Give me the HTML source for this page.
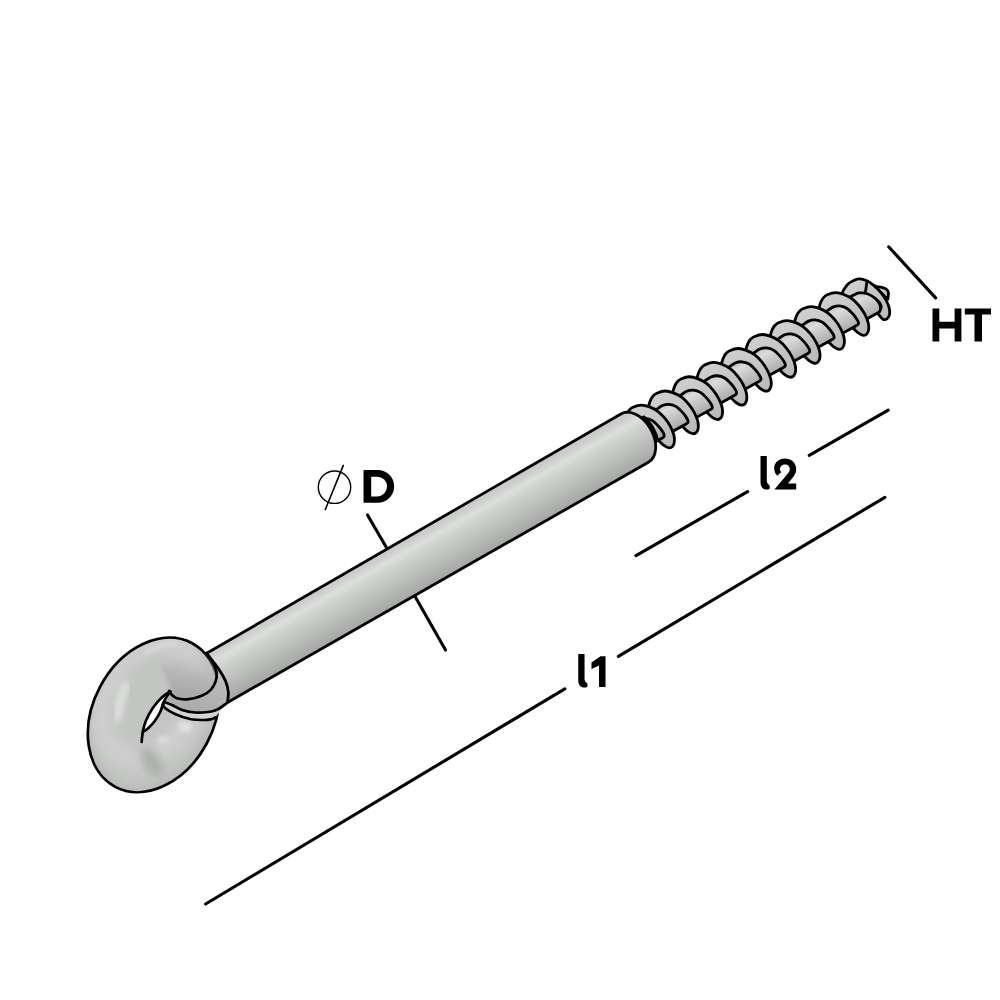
<!DOCTYPE html>
<html><head><meta charset="utf-8"><style>
html,body{margin:0;padding:0;background:#fff;}
svg{display:block;}
</style></head><body>
<svg width="1000" height="1000" viewBox="0 0 1000 1000">
<defs>
<linearGradient id="cyl" gradientUnits="userSpaceOnUse" x1="0" y1="-28.25" x2="0" y2="27.35">
 <stop offset="0" stop-color="#c4c7c4"/>
 <stop offset="0.12" stop-color="#cccfcc"/>
 <stop offset="0.24" stop-color="#dcdfdc"/>
 <stop offset="0.36" stop-color="#d0d3d0"/>
 <stop offset="0.6" stop-color="#c0c3c0"/>
 <stop offset="1" stop-color="#a3a6a3"/>
</linearGradient>
<linearGradient id="core" gradientUnits="userSpaceOnUse" x1="0" y1="-16" x2="0" y2="12">
 <stop offset="0" stop-color="#c4c5c4"/>
 <stop offset="0.25" stop-color="#dcdcdc"/>
 <stop offset="1" stop-color="#a9aaa9"/>
</linearGradient>
<linearGradient id="fl" gradientUnits="userSpaceOnUse" x1="0" y1="-27" x2="0" y2="24">
 <stop offset="0" stop-color="#cfcfcf"/>
 <stop offset="1" stop-color="#b9b9b9"/>
</linearGradient>
<radialGradient id="ring" gradientUnits="userSpaceOnUse" cx="120" cy="710" r="90">
 <stop offset="0" stop-color="#d8d9d8"/>
 <stop offset="0.6" stop-color="#c3c4c3"/>
 <stop offset="1" stop-color="#b4b5b4"/>
</radialGradient>
</defs>
<rect width="1000" height="1000" fill="#fff"/>
<line x1="888.7" y1="246.8" x2="935.6" y2="297.9" stroke="#000" stroke-width="3.1" stroke-linecap="round"/>
<line x1="888.2" y1="410.2" x2="809.2" y2="455.3" stroke="#000" stroke-width="3.1" stroke-linecap="round"/>
<line x1="747.6" y1="491.6" x2="636" y2="555.6" stroke="#000" stroke-width="3.1" stroke-linecap="round"/>
<line x1="884.9" y1="497.3" x2="618.4" y2="656.4" stroke="#000" stroke-width="3.1" stroke-linecap="round"/>
<line x1="564.8" y1="688.8" x2="205.6" y2="904" stroke="#000" stroke-width="3.1" stroke-linecap="round"/>
<line x1="367.5" y1="515" x2="387" y2="548.5" stroke="#000" stroke-width="3.1" stroke-linecap="round"/>
<line x1="414.5" y1="595.5" x2="445.5" y2="650" stroke="#000" stroke-width="3.1" stroke-linecap="round"/>
<clipPath id="ringclip"><ellipse cx="153.5" cy="714.9" rx="81.5" ry="60.4" transform="rotate(-62 153.5 714.9)"/></clipPath>
<filter id="bl4" x="-50%" y="-50%" width="200%" height="200%"><feGaussianBlur stdDeviation="4"/></filter>
<filter id="bl2" x="-50%" y="-50%" width="200%" height="200%"><feGaussianBlur stdDeviation="2"/></filter>
<filter id="bl6" x="-50%" y="-50%" width="200%" height="200%"><feGaussianBlur stdDeviation="6"/></filter>
<ellipse cx="153.5" cy="714.9" rx="81.5" ry="60.4" transform="rotate(-62 153.5 714.9)" fill="#c3c5c3"/>
<g clip-path="url(#ringclip)">
<ellipse cx="153.5" cy="714.9" rx="81.5" ry="60.4" transform="rotate(-62 153.5 714.9)" fill="none" stroke="#b6b8b6" stroke-width="10" filter="url(#bl4)"/>
<ellipse cx="150" cy="700" rx="62" ry="44" transform="rotate(-62 150 700)" fill="none" stroke="#cdcfcd" stroke-width="22" filter="url(#bl6)"/>
<filter id="bl3" x="-50%" y="-50%" width="200%" height="200%"><feGaussianBlur stdDeviation="3"/></filter>
<path d="M 126 686 C 121 695 119 704 118 717" fill="none" stroke="#e0e2e0" stroke-width="8" stroke-linecap="round" filter="url(#bl3)"/>
<path d="M 146 653 C 155 647 165 644 176 643" fill="none" stroke="#dadbda" stroke-width="4" stroke-linecap="round" filter="url(#bl2)"/>
<ellipse cx="190" cy="687" rx="17" ry="8" transform="rotate(-15 190 687)" fill="#a2a3a2" filter="url(#bl4)"/>
<ellipse cx="185" cy="727" rx="7" ry="5" fill="#e0e1e0" filter="url(#bl2)"/>
<ellipse cx="163" cy="740" rx="6" ry="4" fill="#dcdddc" filter="url(#bl2)"/>
<ellipse cx="152" cy="762" rx="9" ry="17" transform="rotate(-35 152 762)" fill="#aeb0ae" filter="url(#bl4)"/>
</g>
<ellipse cx="153.5" cy="714.9" rx="81.5" ry="60.4" transform="rotate(-62 153.5 714.9)" fill="none" stroke="#000" stroke-width="2.7"/>
<path d="M 170.4 691.6 C 169 692.53 164.9 694.5 162 697.2 C 159.1 699.9 155.7 703.83 153 707.8 C 150.3 711.77 147.5 716.97 145.8 721 C 144.1 725.03 143.3 730.17 142.8 732 C 143.7 731.37 146.2 730.03 148.2 728.2 C 150.2 726.37 152.8 723.7 154.8 721 C 156.8 718.3 158.77 715 160.2 712 C 161.63 709 162.3 705.6 163.4 703 C 164.5 700.4 165.63 698.3 166.8 696.4 C 167.97 694.5 169.8 692.4 170.4 691.6 Z" fill="#fff" stroke="none"/>
<linearGradient id="collarg" gradientUnits="userSpaceOnUse" x1="200" y1="660" x2="190" y2="712"><stop offset="0" stop-color="#c4c5c4"/><stop offset="1" stop-color="#a9aaa9"/></linearGradient>
<path d="M 206.7 652.9 C 207.75 654.47 211.35 659.08 213 662.3 C 214.65 665.52 216.15 669.05 216.6 672.2 C 217.05 675.35 216.6 678.35 215.7 681.2 C 214.8 684.05 213.45 686.9 211.2 689.3 C 208.95 691.7 205.95 693.95 202.2 695.6 C 198.45 697.25 192.9 698.75 188.7 699.2 C 184.5 699.65 180 699.2 177 698.3 C 174 697.4 172.03 695.02 170.7 693.8 C 169.37 692.58 169.28 691.47 169 691 L 164 702  L 164 702 C 165.33 702.5 169 703.67 172 705 C 175 706.33 178.17 708.75 182 710 C 185.83 711.25 190.67 712.17 195 712.5 C 199.33 712.83 204.67 712.33 208 712 C 211.33 711.67 213 711.17 215 710.5 C 217 709.83 218 709.25 220 708 C 222 706.75 225.83 703.83 227 703 L 228.3 692 L 224 680 L 216 668 Z" fill="url(#collarg)" stroke="none"/>
<linearGradient id="bulbg" gradientUnits="userSpaceOnUse" x1="195" y1="650" x2="185" y2="700"><stop offset="0" stop-color="#c2c3c2" stop-opacity="0"/><stop offset="0.55" stop-color="#b4b5b4"/><stop offset="1" stop-color="#a3a4a3"/></linearGradient>
<path d="M 172 690 L 160 665 L 206.7 652.9 C 207.75 654.47 211.35 659.08 213 662.3 C 214.65 665.52 216.15 669.05 216.6 672.2 C 217.05 675.35 216.6 678.35 215.7 681.2 C 214.8 684.05 213.45 686.9 211.2 689.3 C 208.95 691.7 205.95 693.95 202.2 695.6 C 198.45 697.25 192.9 698.75 188.7 699.2 C 184.5 699.65 180 699.2 177 698.3 C 174 697.4 172.03 695.02 170.7 693.8 C 169.37 692.58 169.28 691.47 169 691 Z" fill="url(#bulbg)" stroke="none" filter="url(#bl2)"/>
<path d="M 164 702 C 165.33 702.5 169 703.67 172 705 C 175 706.33 178.17 708.75 182 710 C 185.83 711.25 190.67 712.17 195 712.5 C 199.33 712.83 204.67 712.33 208 712 C 211.33 711.67 213 711.17 215 710.5 C 217 709.83 218 709.25 220 708 C 222 706.75 225.83 703.83 227 703 L 215 717.5 C 214.5 717.75 213.67 718.58 212 719 C 210.33 719.42 208.67 720 205 720 C 201.33 720 195 720 190 719 C 185 718 179.17 715.83 175 714 C 170.83 712.17 167 709.67 165 708 C 163 706.33 163.33 704.67 163 704 Z" fill="#d3d4d3" stroke="none"/>
<path d="M 170.4 691.6 C 169 692.53 164.9 694.5 162 697.2 C 159.1 699.9 155.7 703.83 153 707.8 C 150.3 711.77 147.5 716.97 145.8 721 C 144.1 725.03 143.5 728.5 142.8 732 C 142.1 735.5 141.8 740.33 141.6 742" fill="none" stroke="#000" stroke-width="2.7" stroke-linecap="round"/>
<path d="M 142.8 732 C 143.7 731.37 146.2 730.03 148.2 728.2 C 150.2 726.37 152.8 723.7 154.8 721 C 156.8 718.3 158.77 715 160.2 712 C 161.63 709 162.3 705.6 163.4 703 C 164.5 700.4 165.63 698.3 166.8 696.4 C 167.97 694.5 169.8 692.4 170.4 691.6" fill="none" stroke="#000" stroke-width="2.7" stroke-linecap="round"/>
<path d="M 164 702 C 165.33 702.5 169 703.67 172 705 C 175 706.33 178.17 708.75 182 710 C 185.83 711.25 190.67 712.17 195 712.5 C 199.33 712.83 204.67 712.33 208 712 C 211.33 711.67 213 711.17 215 710.5 C 217 709.83 218 709.25 220 708 C 222 706.75 225.83 703.83 227 703" fill="none" stroke="#000" stroke-width="2.7" stroke-linecap="round"/>
<path d="M 163 704 C 163.33 704.67 163 706.33 165 708 C 167 709.67 170.83 712.17 175 714 C 179.17 715.83 185 718 190 719 C 195 720 201.33 720 205 720 C 208.67 720 210.33 719.42 212 719 C 213.67 718.58 214.5 717.75 215 717.5" fill="none" stroke="#000" stroke-width="2.7" stroke-linecap="round"/>
<path d="M 206.7 652.9 C 207.75 654.47 211.35 659.08 213 662.3 C 214.65 665.52 216.15 669.05 216.6 672.2 C 217.05 675.35 216.6 678.35 215.7 681.2 C 214.8 684.05 213.45 686.9 211.2 689.3 C 208.95 691.7 205.95 693.95 202.2 695.6 C 198.45 697.25 192.9 698.75 188.7 699.2 C 184.5 699.65 180 699.2 177 698.3 C 174 697.4 172.03 695.02 170.7 693.8 C 169.37 692.58 169.28 691.47 169 691" fill="none" stroke="#000" stroke-width="2.7" stroke-linecap="round"/>
<g transform="translate(400.75 572) rotate(-29.7)">
<path d="M 553.1 -14.5 C 553.43 -14.05 554.23 -12.65 555.1 -11.8 C 555.97 -10.95 557.17 -10.5 558.3 -9.4 C 559.43 -8.3 561.28 -6.6 561.9 -5.2 C 562.52 -3.8 562.63 -2.62 562 -1 C 561.37 0.62 558.75 3.58 558.1 4.5 Z" fill="#c4c4c4" stroke="#000" stroke-width="2.8" stroke-linejoin="round"/>
<path d="M 516.6 -18 C 517.42 -18.93 519.5 -22 521.5 -23.6 C 523.5 -25.2 526.53 -26.72 528.6 -27.6 C 530.67 -28.48 531.47 -28.92 533.9 -28.9 C 536.33 -28.88 540.67 -28.65 543.2 -27.5 C 545.73 -26.35 547.47 -24.2 549.1 -22 C 550.73 -19.8 551.95 -17.13 553 -14.3 C 554.05 -11.47 554.87 -8.08 555.4 -5 C 555.93 -1.92 556.22 1.38 556.2 4.2 C 556.18 7.02 555.95 9.53 555.3 11.9 C 554.65 14.27 553.5 16.9 552.3 18.4 C 551.1 19.9 549.47 20.75 548.1 20.9 C 546.73 21.05 545.02 20.65 544.1 19.3 C 543.18 17.95 542.85 13.88 542.6 12.8 L 541.6 10 L 517.6 9 Z" fill="url(#fl)" stroke="#000" stroke-width="2.8" stroke-linejoin="round"/>
<path d="M 549.3 -21.8 L 542.4 -13" stroke="#000" stroke-width="2.8"/>
<path d="M 509.76 -16.3 L 523.6 -16.3 C 524.6 -16.28 527.47 -16.37 529.6 -16.2 C 531.73 -16.03 534.07 -16.33 536.4 -15.3 C 538.73 -14.27 541.67 -12.23 543.6 -10 C 545.53 -7.77 547.13 -4.23 548 -1.9 C 548.87 0.43 548.9 2.22 548.8 4 C 548.7 5.78 548.1 7.58 547.4 8.8 C 546.7 10.02 545.07 10.88 544.6 11.3 L 509.76 10.8 Z" fill="url(#core)" stroke="none"/>
<path d="M 543.6 -10 C 544.33 -8.65 547.13 -4.23 548 -1.9 C 548.87 0.43 548.9 2.22 548.8 4 C 548.7 5.78 548.1 7.58 547.4 8.8 C 546.7 10.02 545.07 10.88 544.6 11.3 C 547.1 10.83 548.9 10.2 549.6 9 C 550.3 7.8 550.87 5.67 550.8 4 C 550.73 2.33 549.9 0.42 549.2 -1 C 548.5 -2.42 547.03 -3.92 546.6 -4.5 Z" fill="#000" stroke="none"/>
<path d="M 509.76 -16.3 L 523.6 -16.3 C 524.6 -16.28 527.47 -16.37 529.6 -16.2 C 531.73 -16.03 534.07 -16.33 536.4 -15.3 C 538.73 -14.27 541.67 -12.23 543.6 -10 C 545.53 -7.77 547.13 -4.23 548 -1.9 C 548.87 0.43 548.9 2.22 548.8 4 C 548.7 5.78 548.1 7.58 547.4 8.8 C 546.7 10.02 545.07 10.88 544.6 11.3 L 509.76 10.8" fill="none" stroke="#000" stroke-width="2.8" stroke-linejoin="round"/>
<path d="M 489.7 -16.25 C 490.2 -16.92 491.78 -19.08 492.7 -20.25 C 493.62 -21.42 494.12 -22.17 495.2 -23.25 C 496.28 -24.33 497.87 -25.82 499.2 -26.75 C 500.53 -27.68 501.77 -28.4 503.2 -28.85 C 504.63 -29.3 505.65 -29.72 507.8 -29.45 C 509.95 -29.18 513.67 -28.57 516.1 -27.25 C 518.53 -25.93 520.52 -23.82 522.4 -21.55 C 524.28 -19.28 526.12 -16.6 527.4 -13.65 C 528.68 -10.7 529.53 -7.12 530.1 -3.85 C 530.67 -0.58 530.88 2.83 530.8 5.95 C 530.72 9.07 530.27 12.35 529.6 14.85 C 528.93 17.35 527.92 19.4 526.8 20.95 C 525.68 22.5 524.2 23.72 522.9 24.15 C 521.6 24.58 520.22 24.48 519 23.55 C 517.78 22.62 516.45 20.35 515.6 18.55 C 514.75 16.75 514.18 13.72 513.9 12.75 L 512.2 10.25 L 487.7 8.75 Z" fill="url(#fl)" stroke="#000" stroke-width="2.8" stroke-linejoin="round"/>
<path d="M 479.86 -15.25 L 493.7 -15.25 C 494.62 -15.3 497.05 -15.43 499.2 -15.55 C 501.35 -15.67 504.32 -16.25 506.6 -15.95 C 508.88 -15.65 511 -15.03 512.9 -13.75 C 514.8 -12.47 516.7 -10.58 518 -8.25 C 519.3 -5.92 520.12 -2.42 520.7 0.25 C 521.28 2.92 521.5 5.95 521.5 7.75 C 521.5 9.55 521.18 10.38 520.7 11.05 C 520.22 11.72 518.95 11.63 518.6 11.75 L 479.86 11.35 Z" fill="url(#core)" stroke="none"/>
<path d="M 479.86 -15.25 L 493.7 -15.25 C 494.62 -15.3 497.05 -15.43 499.2 -15.55 C 501.35 -15.67 504.32 -16.25 506.6 -15.95 C 508.88 -15.65 511 -15.03 512.9 -13.75 C 514.8 -12.47 516.7 -10.58 518 -8.25 C 519.3 -5.92 520.12 -2.42 520.7 0.25 C 521.28 2.92 521.5 5.95 521.5 7.75 C 521.5 9.55 521.18 10.38 520.7 11.05 C 520.22 11.72 518.95 11.63 518.6 11.75 L 479.86 11.35" fill="none" stroke="#000" stroke-width="2.8" stroke-linejoin="round"/>
<path d="M 461.6 -16.2 C 462.1 -16.87 463.68 -19.03 464.6 -20.2 C 465.52 -21.37 466.02 -22.12 467.1 -23.2 C 468.18 -24.28 469.77 -25.77 471.1 -26.7 C 472.43 -27.63 473.67 -28.35 475.1 -28.8 C 476.53 -29.25 477.55 -29.67 479.7 -29.4 C 481.85 -29.13 485.57 -28.52 488 -27.2 C 490.43 -25.88 492.42 -23.77 494.3 -21.5 C 496.18 -19.23 498.02 -16.55 499.3 -13.6 C 500.58 -10.65 501.43 -7.07 502 -3.8 C 502.57 -0.53 502.78 2.88 502.7 6 C 502.62 9.12 502.17 12.4 501.5 14.9 C 500.83 17.4 499.82 19.45 498.7 21 C 497.58 22.55 496.1 23.77 494.8 24.2 C 493.5 24.63 492.12 24.53 490.9 23.6 C 489.68 22.67 488.35 20.4 487.5 18.6 C 486.65 16.8 486.08 13.77 485.8 12.8 L 484.1 10.3 L 459.6 8.8 Z" fill="url(#fl)" stroke="#000" stroke-width="2.8" stroke-linejoin="round"/>
<path d="M 451.76 -15.2 L 465.6 -15.2 C 466.52 -15.25 468.95 -15.38 471.1 -15.5 C 473.25 -15.62 476.22 -16.2 478.5 -15.9 C 480.78 -15.6 482.9 -14.98 484.8 -13.7 C 486.7 -12.42 488.6 -10.53 489.9 -8.2 C 491.2 -5.87 492.02 -2.37 492.6 0.3 C 493.18 2.97 493.4 6 493.4 7.8 C 493.4 9.6 493.08 10.43 492.6 11.1 C 492.12 11.77 490.85 11.68 490.5 11.8 L 451.76 11.4 Z" fill="url(#core)" stroke="none"/>
<path d="M 451.76 -15.2 L 465.6 -15.2 C 466.52 -15.25 468.95 -15.38 471.1 -15.5 C 473.25 -15.62 476.22 -16.2 478.5 -15.9 C 480.78 -15.6 482.9 -14.98 484.8 -13.7 C 486.7 -12.42 488.6 -10.53 489.9 -8.2 C 491.2 -5.87 492.02 -2.37 492.6 0.3 C 493.18 2.97 493.4 6 493.4 7.8 C 493.4 9.6 493.08 10.43 492.6 11.1 C 492.12 11.77 490.85 11.68 490.5 11.8 L 451.76 11.4" fill="none" stroke="#000" stroke-width="2.8" stroke-linejoin="round"/>
<path d="M 433.5 -16.15 C 434 -16.82 435.58 -18.98 436.5 -20.15 C 437.42 -21.32 437.92 -22.07 439 -23.15 C 440.08 -24.23 441.67 -25.72 443 -26.65 C 444.33 -27.58 445.57 -28.3 447 -28.75 C 448.43 -29.2 449.45 -29.62 451.6 -29.35 C 453.75 -29.08 457.47 -28.47 459.9 -27.15 C 462.33 -25.83 464.32 -23.72 466.2 -21.45 C 468.08 -19.18 469.92 -16.5 471.2 -13.55 C 472.48 -10.6 473.33 -7.02 473.9 -3.75 C 474.47 -0.48 474.68 2.93 474.6 6.05 C 474.52 9.17 474.07 12.45 473.4 14.95 C 472.73 17.45 471.72 19.5 470.6 21.05 C 469.48 22.6 468 23.82 466.7 24.25 C 465.4 24.68 464.02 24.58 462.8 23.65 C 461.58 22.72 460.25 20.45 459.4 18.65 C 458.55 16.85 457.98 13.82 457.7 12.85 L 456 10.35 L 431.5 8.85 Z" fill="url(#fl)" stroke="#000" stroke-width="2.8" stroke-linejoin="round"/>
<path d="M 423.66 -15.15 L 437.5 -15.15 C 438.42 -15.2 440.85 -15.33 443 -15.45 C 445.15 -15.57 448.12 -16.15 450.4 -15.85 C 452.68 -15.55 454.8 -14.93 456.7 -13.65 C 458.6 -12.37 460.5 -10.48 461.8 -8.15 C 463.1 -5.82 463.92 -2.32 464.5 0.35 C 465.08 3.02 465.3 6.05 465.3 7.85 C 465.3 9.65 464.98 10.48 464.5 11.15 C 464.02 11.82 462.75 11.73 462.4 11.85 L 423.66 11.45 Z" fill="url(#core)" stroke="none"/>
<path d="M 423.66 -15.15 L 437.5 -15.15 C 438.42 -15.2 440.85 -15.33 443 -15.45 C 445.15 -15.57 448.12 -16.15 450.4 -15.85 C 452.68 -15.55 454.8 -14.93 456.7 -13.65 C 458.6 -12.37 460.5 -10.48 461.8 -8.15 C 463.1 -5.82 463.92 -2.32 464.5 0.35 C 465.08 3.02 465.3 6.05 465.3 7.85 C 465.3 9.65 464.98 10.48 464.5 11.15 C 464.02 11.82 462.75 11.73 462.4 11.85 L 423.66 11.45" fill="none" stroke="#000" stroke-width="2.8" stroke-linejoin="round"/>
<path d="M 405.4 -16.1 C 405.9 -16.77 407.48 -18.93 408.4 -20.1 C 409.32 -21.27 409.82 -22.02 410.9 -23.1 C 411.98 -24.18 413.57 -25.67 414.9 -26.6 C 416.23 -27.53 417.47 -28.25 418.9 -28.7 C 420.33 -29.15 421.35 -29.57 423.5 -29.3 C 425.65 -29.03 429.37 -28.42 431.8 -27.1 C 434.23 -25.78 436.22 -23.67 438.1 -21.4 C 439.98 -19.13 441.82 -16.45 443.1 -13.5 C 444.38 -10.55 445.23 -6.97 445.8 -3.7 C 446.37 -0.43 446.58 2.98 446.5 6.1 C 446.42 9.22 445.97 12.5 445.3 15 C 444.63 17.5 443.62 19.55 442.5 21.1 C 441.38 22.65 439.9 23.87 438.6 24.3 C 437.3 24.73 435.92 24.63 434.7 23.7 C 433.48 22.77 432.15 20.5 431.3 18.7 C 430.45 16.9 429.88 13.87 429.6 12.9 L 427.9 10.4 L 403.4 8.9 Z" fill="url(#fl)" stroke="#000" stroke-width="2.8" stroke-linejoin="round"/>
<path d="M 395.56 -15.1 L 409.4 -15.1 C 410.32 -15.15 412.75 -15.28 414.9 -15.4 C 417.05 -15.52 420.02 -16.1 422.3 -15.8 C 424.58 -15.5 426.7 -14.88 428.6 -13.6 C 430.5 -12.32 432.4 -10.43 433.7 -8.1 C 435 -5.77 435.82 -2.27 436.4 0.4 C 436.98 3.07 437.2 6.1 437.2 7.9 C 437.2 9.7 436.88 10.53 436.4 11.2 C 435.92 11.87 434.65 11.78 434.3 11.9 L 395.56 11.5 Z" fill="url(#core)" stroke="none"/>
<path d="M 395.56 -15.1 L 409.4 -15.1 C 410.32 -15.15 412.75 -15.28 414.9 -15.4 C 417.05 -15.52 420.02 -16.1 422.3 -15.8 C 424.58 -15.5 426.7 -14.88 428.6 -13.6 C 430.5 -12.32 432.4 -10.43 433.7 -8.1 C 435 -5.77 435.82 -2.27 436.4 0.4 C 436.98 3.07 437.2 6.1 437.2 7.9 C 437.2 9.7 436.88 10.53 436.4 11.2 C 435.92 11.87 434.65 11.78 434.3 11.9 L 395.56 11.5" fill="none" stroke="#000" stroke-width="2.8" stroke-linejoin="round"/>
<path d="M 377.3 -16.05 C 377.8 -16.72 379.38 -18.88 380.3 -20.05 C 381.22 -21.22 381.72 -21.97 382.8 -23.05 C 383.88 -24.13 385.47 -25.62 386.8 -26.55 C 388.13 -27.48 389.37 -28.2 390.8 -28.65 C 392.23 -29.1 393.25 -29.52 395.4 -29.25 C 397.55 -28.98 401.27 -28.37 403.7 -27.05 C 406.13 -25.73 408.12 -23.62 410 -21.35 C 411.88 -19.08 413.72 -16.4 415 -13.45 C 416.28 -10.5 417.13 -6.92 417.7 -3.65 C 418.27 -0.38 418.48 3.03 418.4 6.15 C 418.32 9.27 417.87 12.55 417.2 15.05 C 416.53 17.55 415.52 19.6 414.4 21.15 C 413.28 22.7 411.8 23.92 410.5 24.35 C 409.2 24.78 407.82 24.68 406.6 23.75 C 405.38 22.82 404.05 20.55 403.2 18.75 C 402.35 16.95 401.78 13.92 401.5 12.95 L 399.8 10.45 L 375.3 8.95 Z" fill="url(#fl)" stroke="#000" stroke-width="2.8" stroke-linejoin="round"/>
<path d="M 367.46 -15.05 L 381.3 -15.05 C 382.22 -15.1 384.65 -15.23 386.8 -15.35 C 388.95 -15.47 391.92 -16.05 394.2 -15.75 C 396.48 -15.45 398.6 -14.83 400.5 -13.55 C 402.4 -12.27 404.3 -10.38 405.6 -8.05 C 406.9 -5.72 407.72 -2.22 408.3 0.45 C 408.88 3.12 409.1 6.15 409.1 7.95 C 409.1 9.75 408.78 10.58 408.3 11.25 C 407.82 11.92 406.55 11.83 406.2 11.95 L 367.46 11.55 Z" fill="url(#core)" stroke="none"/>
<path d="M 367.46 -15.05 L 381.3 -15.05 C 382.22 -15.1 384.65 -15.23 386.8 -15.35 C 388.95 -15.47 391.92 -16.05 394.2 -15.75 C 396.48 -15.45 398.6 -14.83 400.5 -13.55 C 402.4 -12.27 404.3 -10.38 405.6 -8.05 C 406.9 -5.72 407.72 -2.22 408.3 0.45 C 408.88 3.12 409.1 6.15 409.1 7.95 C 409.1 9.75 408.78 10.58 408.3 11.25 C 407.82 11.92 406.55 11.83 406.2 11.95 L 367.46 11.55" fill="none" stroke="#000" stroke-width="2.8" stroke-linejoin="round"/>
<path d="M 349.2 -16 C 349.7 -16.67 351.28 -18.83 352.2 -20 C 353.12 -21.17 353.62 -21.92 354.7 -23 C 355.78 -24.08 357.37 -25.57 358.7 -26.5 C 360.03 -27.43 361.27 -28.15 362.7 -28.6 C 364.13 -29.05 365.15 -29.47 367.3 -29.2 C 369.45 -28.93 373.17 -28.32 375.6 -27 C 378.03 -25.68 380.02 -23.57 381.9 -21.3 C 383.78 -19.03 385.62 -16.35 386.9 -13.4 C 388.18 -10.45 389.03 -6.87 389.6 -3.6 C 390.17 -0.33 390.38 3.08 390.3 6.2 C 390.22 9.32 389.77 12.6 389.1 15.1 C 388.43 17.6 387.42 19.65 386.3 21.2 C 385.18 22.75 383.7 23.97 382.4 24.4 C 381.1 24.83 379.72 24.73 378.5 23.8 C 377.28 22.87 375.95 20.6 375.1 18.8 C 374.25 17 373.68 13.97 373.4 13 L 371.7 10.5 L 347.2 9 Z" fill="url(#fl)" stroke="#000" stroke-width="2.8" stroke-linejoin="round"/>
<path d="M 339.36 -15 L 353.2 -15 C 354.12 -15.05 356.55 -15.18 358.7 -15.3 C 360.85 -15.42 363.82 -16 366.1 -15.7 C 368.38 -15.4 370.5 -14.78 372.4 -13.5 C 374.3 -12.22 376.2 -10.33 377.5 -8 C 378.8 -5.67 379.62 -2.17 380.2 0.5 C 380.78 3.17 381 6.2 381 8 C 381 9.8 380.68 10.63 380.2 11.3 C 379.72 11.97 378.45 11.88 378.1 12 L 339.36 11.6 Z" fill="url(#core)" stroke="none"/>
<path d="M 339.36 -15 L 353.2 -15 C 354.12 -15.05 356.55 -15.18 358.7 -15.3 C 360.85 -15.42 363.82 -16 366.1 -15.7 C 368.38 -15.4 370.5 -14.78 372.4 -13.5 C 374.3 -12.22 376.2 -10.33 377.5 -8 C 378.8 -5.67 379.62 -2.17 380.2 0.5 C 380.78 3.17 381 6.2 381 8 C 381 9.8 380.68 10.63 380.2 11.3 C 379.72 11.97 378.45 11.88 378.1 12 L 339.36 11.6" fill="none" stroke="#000" stroke-width="2.8" stroke-linejoin="round"/>
<path d="M 321 -15.61 C 321.5 -16.28 323.08 -18.44 324 -19.61 C 324.92 -20.78 325.42 -21.53 326.5 -22.61 C 327.58 -23.69 329.17 -25.18 330.5 -26.11 C 331.83 -27.04 333.07 -27.76 334.5 -28.21 C 335.93 -28.66 336.95 -29.08 339.1 -28.81 C 341.25 -28.54 344.97 -27.93 347.4 -26.61 C 349.83 -25.29 351.82 -23.18 353.7 -20.91 C 355.58 -18.64 357.42 -15.96 358.7 -13.01 C 359.98 -10.06 360.83 -6.48 361.4 -3.21 C 361.97 0.06 362.18 3.47 362.1 6.59 C 362.02 9.71 361.57 12.99 360.9 15.49 C 360.23 17.99 359.22 20.04 358.1 21.59 C 356.98 23.14 355.5 24.36 354.2 24.79 C 352.9 25.22 351.52 25.12 350.3 24.19 C 349.08 23.26 347.75 20.99 346.9 19.19 C 346.05 17.39 345.48 14.36 345.2 13.39 L 343.5 10.89 L 319 9.39 Z" fill="url(#fl)" stroke="#000" stroke-width="2.8" stroke-linejoin="round"/>
<path d="M 311.16 -14.61 L 325 -14.61 C 325.92 -14.66 328.35 -14.79 330.5 -14.91 C 332.65 -15.03 335.62 -15.61 337.9 -15.31 C 340.18 -15.01 342.3 -14.39 344.2 -13.11 C 346.1 -11.83 348 -9.94 349.3 -7.61 C 350.6 -5.28 351.42 -1.78 352 0.89 C 352.58 3.56 352.8 6.59 352.8 8.39 C 352.8 10.19 352.48 11.02 352 11.69 C 351.52 12.36 350.25 12.27 349.9 12.39 L 311.16 11.99 Z" fill="url(#core)" stroke="none"/>
<path d="M 311.16 -14.61 L 325 -14.61 C 325.92 -14.66 328.35 -14.79 330.5 -14.91 C 332.65 -15.03 335.62 -15.61 337.9 -15.31 C 340.18 -15.01 342.3 -14.39 344.2 -13.11 C 346.1 -11.83 348 -9.94 349.3 -7.61 C 350.6 -5.28 351.42 -1.78 352 0.89 C 352.58 3.56 352.8 6.59 352.8 8.39 C 352.8 10.19 352.48 11.02 352 11.69 C 351.52 12.36 350.25 12.27 349.9 12.39 L 311.16 11.99" fill="none" stroke="#000" stroke-width="2.8" stroke-linejoin="round"/>
<path d="M 292.9 -15.22 C 293.4 -15.89 294.98 -18.05 295.9 -19.22 C 296.82 -20.39 297.32 -21.14 298.4 -22.22 C 299.48 -23.3 301.07 -24.79 302.4 -25.72 C 303.73 -26.65 304.97 -27.37 306.4 -27.82 C 307.83 -28.27 308.85 -28.69 311 -28.42 C 313.15 -28.15 316.87 -27.54 319.3 -26.22 C 321.73 -24.9 323.72 -22.79 325.6 -20.52 C 327.48 -18.25 329.32 -15.57 330.6 -12.62 C 331.88 -9.67 332.73 -6.09 333.3 -2.82 C 333.87 0.45 334.08 3.86 334 6.98 C 333.92 10.1 333.47 13.38 332.8 15.88 C 332.13 18.38 331.12 20.43 330 21.98 C 328.88 23.53 327.4 24.75 326.1 25.18 C 324.8 25.61 323.42 25.51 322.2 24.58 C 320.98 23.65 319.65 21.38 318.8 19.58 C 317.95 17.78 317.38 14.75 317.1 13.78 L 315.4 11.28 L 290.9 9.78 Z" fill="url(#fl)" stroke="#000" stroke-width="2.8" stroke-linejoin="round"/>
<path d="M 283.06 -14.22 L 296.9 -14.22 C 297.82 -14.27 300.25 -14.4 302.4 -14.52 C 304.55 -14.64 307.52 -15.22 309.8 -14.92 C 312.08 -14.62 314.2 -14 316.1 -12.72 C 318 -11.44 319.9 -9.55 321.2 -7.22 C 322.5 -4.89 323.32 -1.39 323.9 1.28 C 324.48 3.95 324.7 6.98 324.7 8.78 C 324.7 10.58 324.38 11.41 323.9 12.08 C 323.42 12.75 322.15 12.66 321.8 12.78 L 283.06 12.38 Z" fill="url(#core)" stroke="none"/>
<path d="M 283.06 -14.22 L 296.9 -14.22 C 297.82 -14.27 300.25 -14.4 302.4 -14.52 C 304.55 -14.64 307.52 -15.22 309.8 -14.92 C 312.08 -14.62 314.2 -14 316.1 -12.72 C 318 -11.44 319.9 -9.55 321.2 -7.22 C 322.5 -4.89 323.32 -1.39 323.9 1.28 C 324.48 3.95 324.7 6.98 324.7 8.78 C 324.7 10.58 324.38 11.41 323.9 12.08 C 323.42 12.75 322.15 12.66 321.8 12.78 L 283.06 12.38" fill="none" stroke="#000" stroke-width="2.8" stroke-linejoin="round"/>
<path d="M 265.2 -14.83 C 265.7 -15.5 267.28 -17.66 268.2 -18.83 C 269.12 -20 269.62 -20.75 270.7 -21.83 C 271.78 -22.91 273.37 -24.4 274.7 -25.33 C 276.03 -26.26 277.27 -26.98 278.7 -27.43 C 280.13 -27.88 281.15 -28.3 283.3 -28.03 C 285.45 -27.76 289.17 -27.15 291.6 -25.83 C 294.03 -24.51 296.02 -22.4 297.9 -20.13 C 299.78 -17.86 301.62 -15.18 302.9 -12.23 C 304.18 -9.28 305.03 -5.7 305.6 -2.43 C 306.17 0.84 306.38 4.25 306.3 7.37 C 306.22 10.49 305.77 13.77 305.1 16.27 C 304.43 18.77 303.42 20.82 302.3 22.37 C 301.18 23.92 299.7 25.14 298.4 25.57 C 297.1 26 295.72 25.9 294.5 24.97 C 293.28 24.04 291.95 21.77 291.1 19.97 C 290.25 18.17 289.68 15.14 289.4 14.17 L 287.7 11.67 L 263.2 10.17 Z" fill="url(#fl)" stroke="#000" stroke-width="2.8" stroke-linejoin="round"/>
<path d="M 255.36 -13.83 L 269.2 -13.83 C 270.12 -13.88 272.55 -14.01 274.7 -14.13 C 276.85 -14.25 279.82 -14.83 282.1 -14.53 C 284.38 -14.23 286.5 -13.61 288.4 -12.33 C 290.3 -11.05 292.2 -9.16 293.5 -6.83 C 294.8 -4.5 295.62 -1 296.2 1.67 C 296.78 4.34 297 7.37 297 9.17 C 297 10.97 296.68 11.8 296.2 12.47 C 295.72 13.14 294.45 13.05 294.1 13.17 L 255.36 12.77 Z" fill="url(#core)" stroke="none"/>
<path d="M 255.36 -13.83 L 269.2 -13.83 C 270.12 -13.88 272.55 -14.01 274.7 -14.13 C 276.85 -14.25 279.82 -14.83 282.1 -14.53 C 284.38 -14.23 286.5 -13.61 288.4 -12.33 C 290.3 -11.05 292.2 -9.16 293.5 -6.83 C 294.8 -4.5 295.62 -1 296.2 1.67 C 296.78 4.34 297 7.37 297 9.17 C 297 10.97 296.68 11.8 296.2 12.47 C 295.72 13.14 294.45 13.05 294.1 13.17 L 255.36 12.77" fill="none" stroke="#000" stroke-width="2.8" stroke-linejoin="round"/>
<path d="M 287.12 -13 C 287.18 -12.8 287.38 -12.18 287.5 -11.78 C 287.62 -11.37 287.74 -10.96 287.84 -10.55 C 287.95 -10.14 288.05 -9.73 288.14 -9.32 C 288.23 -8.92 288.31 -8.51 288.39 -8.1 C 288.47 -7.69 288.54 -7.28 288.6 -6.88 C 288.67 -6.47 288.72 -6.06 288.78 -5.65 C 288.83 -5.24 288.87 -4.83 288.91 -4.42 C 288.95 -4.02 288.98 -3.61 289.01 -3.2 C 289.04 -2.79 289.06 -2.38 289.07 -1.97 C 289.09 -1.57 289.1 -1.16 289.1 -0.75 C 289.1 -0.34 289.1 0.07 289.09 0.48 C 289.08 0.88 289.07 1.29 289.04 1.7 C 289.02 2.11 289 2.52 288.96 2.93 C 288.93 3.33 288.89 3.74 288.85 4.15 C 288.8 4.56 288.75 4.97 288.69 5.38 C 288.63 5.78 288.57 6.19 288.5 6.6 C 288.43 7.01 288.35 7.42 288.27 7.83 C 288.18 8.23 288.09 8.64 287.99 9.05 C 287.89 9.46 287.79 9.87 287.68 10.28 C 287.56 10.68 287.37 11.3 287.31 11.5" fill="none" stroke="#000" stroke-width="5.5" stroke-linecap="round"/>
<path d="M -208.84 -25.52 L 269.5 -28.25 A 18.4 27.8 0 0 1 269.5 27.35 L -215.15 27.52 C -214.16 26.06 -210.73 22.03 -209.25 18.79 C -207.77 15.55 -206.74 12.28 -206.24 8.07 C -205.75 3.87 -205.82 -0.84 -206.26 -6.44 C -206.69 -12.04 -208.41 -22.34 -208.84 -25.52 Z" fill="url(#cyl)" stroke="#000" stroke-width="2.8" stroke-linejoin="round"/>
</g>
<path fill="#000" d="M 932.5 308.6 H 939.3 V 321.8 H 954.6 V 308.6 H 961.4 V 341.6 H 954.6 V 328.5 H 939.3 V 341.6 H 932.5 Z"/>
<path fill="#000" d="M 964.8 308.6 H 991 V 314.6 H 982 V 341.6 H 974.5 V 314.6 H 964.8 Z"/>
<path fill="#000" fill-rule="evenodd" d="M 363.55 469.9 H 377.75 A 16.4 16.4 0 0 1 377.75 502.75 H 363.55 Z M 371.2 476.65 V 496.45 H 377.2 A 9.9 9.9 0 0 0 377.2 476.65 Z"/>
<path fill="#000" d="M 578.25 654.00 H 584.55 V 679.00 C 584.55 681.00 585.75 682.20 587.45 683.50 V 686.50 C 586.85 687.50 585.45 687.60 584.25 687.60 C 580.45 687.60 578.25 684.60 578.25 680.00 Z"/>
<path fill="#000" d="M 760.50 456.00 H 766.80 V 481.00 C 766.80 483.00 768.00 484.20 769.70 485.50 V 488.50 C 769.10 489.50 767.70 489.60 766.50 489.60 C 762.70 489.60 760.50 486.60 760.50 482.00 Z"/>
<path fill="#000" d="M 605.5 656.3 V 687 H 599 V 665.5 L 591.5 669 V 662.5 L 600.5 656.3 Z"/>
<path fill="#000" d="M 774.5 489.6 L 796.2 489.6 L 796.2 483.5 L 788 483.5 L 793.2 477 C 795.2 474.5 796.2 472 796.2 469 C 796.2 462.5 791 458.4 785 458.4 C 778.5 458.4 774.2 462.8 774.2 468 C 774.2 471 775 473.5 777.2 475.8 L 781.2 472.3 C 780.4 471.3 780 470.3 780 469 C 780 466.3 782.3 464.4 785 464.4 C 787.8 464.4 789.8 466.5 789.8 469 C 789.8 470.5 789.3 471.8 788 473.3 Z"/>
<circle cx="334.5" cy="487.2" r="16.2" fill="none" stroke="#000" stroke-width="1.4"/>
<line x1="343.3" y1="465.4" x2="325.3" y2="509.5" stroke="#000" stroke-width="1.6" stroke-linecap="round"/>
</svg>
</body></html>
